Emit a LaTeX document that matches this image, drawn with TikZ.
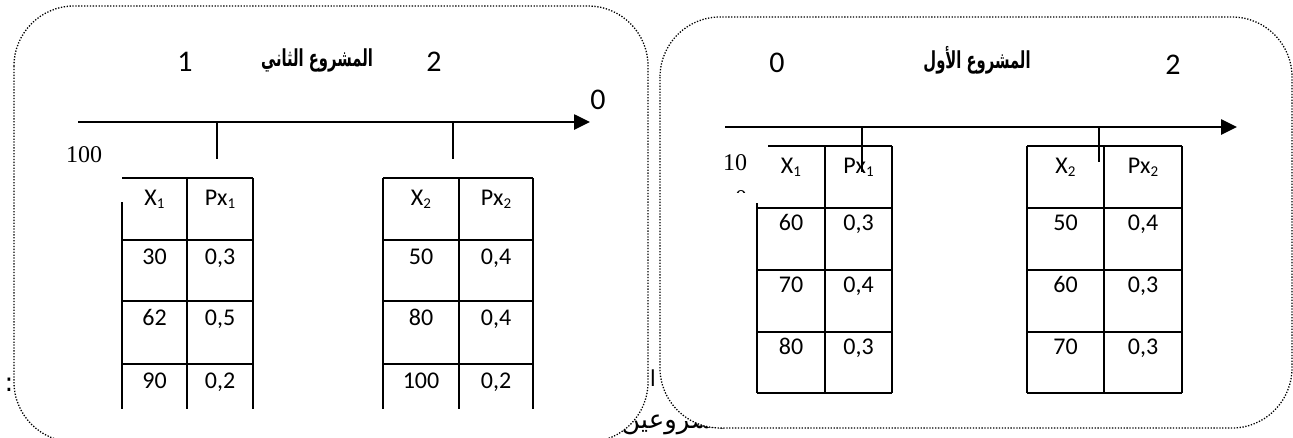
\documentclass[tikz,border=0pt]{standalone}
\usepackage{fontspec}
\setmainfont{Carlito}
\newfontfamily\arabicfont[Script=Arabic]{DejaVu Sans}
\newfontfamily\timesfont{Liberation Serif}
\TeXXeTstate=1
\usetikzlibrary{arrows.meta}
\newcommand\sbs[1]{\raisebox{-0.3ex}{\fontsize{15}{15}\selectfont #1}}
\newcommand\ttltext[1]{\scalebox{0.82}[1.3]{\beginR #1\endR}}
\begin{document}
\begin{tikzpicture}[x=1pt,y=-1pt,
  dotbox/.style={draw=black, fill=white, line width=1.3pt, dash pattern=on 1.3pt off 1.6pt, rounded corners=60pt},
  tline/.style={line width=2.2pt},
  axisline/.style={line width=2.6pt, -{Triangle[length=16pt,width=15pt]}},
  tickline/.style={line width=1.8pt},
  thintick/.style={line width=1.4pt},
  cell/.style={font=\fontsize{24}{24}\selectfont, inner sep=0pt, anchor=base},
  big/.style={font=\fontsize{30}{30}\selectfont, inner sep=0pt},
  ttl/.style={font=\arabicfont\bfseries\fontsize{18}{18}\selectfont, inner sep=0pt},
  serifnum/.style={font=\timesfont\fontsize{24}{24}\selectfont, inner sep=0pt},
  frag/.style={font=\arabicfont\fontsize{26}{26}\selectfont, inner sep=0pt}
]
\useasboundingbox[fill=white] (0,0) rectangle (1293,437);

% text fragments lying behind the frames
\node[frag, anchor=base west] (fragword) at (621,428) {\beginR المشروعين\endR};
\node[frag] (fragcolon) at (9,385) {:};

% frames
\draw[dotbox] (14,6) rectangle (648,442);
\draw[dotbox] (660,17) rectangle (1292,428);
\node[frag, font=\arabicfont\fontsize{22}{22}\selectfont] (fragalef) at (653,378) {\beginR ا\endR};

% ---------- left frame : second project ----------
\node[big] (l1) at (185,62) {1};
\node[ttl] (ltitle) at (317,60) {\ttltext{المشروع الثاني}};
\node[big] (l2) at (434,62) {2};
\node[big] (l0) at (598,100) {0};
\node[serifnum] (l100) at (84,155) {100};

\coordinate (la0) at (78,122);
\coordinate (la1) at (590,122);
\draw[axisline] (la0) -- (la1);
\coordinate (lt1a) at (217,122); \coordinate (lt1b) at (217,159);
\coordinate (lt2a) at (453,122); \coordinate (lt2b) at (453,159);
\draw[tickline] (lt1a) -- (lt1b);
\draw[tickline] (lt2a) -- (lt2b);

% left table 1
\draw[tline] (122,178) -- (253,178);
\draw[tline] (122,202) -- (122,409);
\draw[tline] (187,178) -- (187,409);
\draw[tline] (253,178) -- (253,409);
\foreach \yy in {240,301,364} \draw[tline] (122,\yy) -- (253,\yy);
\node[cell] (a00) at (154.5,205) {X\sbs{1}};
\node[cell] (a01) at (220,205) {Px\sbs{1}};
\node[cell] (a10) at (154.5,264.5) {30};
\node[cell] (a11) at (220,264.5) {0,3};
\node[cell] (a20) at (154.5,325.5) {62};
\node[cell] (a21) at (220,325.5) {0,5};
\node[cell] (a30) at (154.5,388.5) {90};
\node[cell] (a31) at (220,388.5) {0,2};

% left table 2
\draw[tline] (383,178) -- (533,178);
\draw[tline] (383,178) -- (383,409);
\draw[tline] (459,178) -- (459,409);
\draw[tline] (533,178) -- (533,409);
\foreach \yy in {240,301,364} \draw[tline] (383,\yy) -- (533,\yy);
\node[cell] (b00) at (421,205) {X\sbs{2}};
\node[cell] (b01) at (496,205) {Px\sbs{2}};
\node[cell] (b10) at (421,264.5) {50};
\node[cell] (b11) at (496,264.5) {0,4};
\node[cell] (b20) at (421,325.5) {80};
\node[cell] (b21) at (496,325.5) {0,4};
\node[cell] (b30) at (421,388.5) {100};
\node[cell] (b31) at (496,388.5) {0,2};

% ---------- right frame : first project ----------
\node[big] (r0) at (777,63) {0};
\node[ttl] (rtitle) at (977,60) {\ttltext{المشروع الأول}};
\node[big] (r2) at (1173,65) {2};
\node[serifnum] (r10) at (735,163) {10};
\begin{scope}
  \clip (725,180) rectangle (760,192);
  \node[serifnum] (r10b) at (741,199) {0};
\end{scope}

\coordinate (ra0) at (725,127);
\coordinate (ra1) at (1237,127);
\draw[axisline] (ra0) -- (ra1);

% right table 1
\draw[tline] (768,146) -- (892,146);
\draw[tline] (757,203) -- (757,393);
\draw[tline] (825,146) -- (825,393);
\draw[tline] (892,146) -- (892,393);
\foreach \yy in {208,270,332,393} \draw[tline] (757,\yy) -- (892,\yy);
\node[cell] (c00) at (791,173) {X\sbs{1}};
\node[cell] (c01) at (858.5,173) {Px\sbs{1}};
\node[cell] (c10) at (791,230.5) {60};
\node[cell] (c11) at (858.5,230.5) {0,3};
\node[cell] (c20) at (791,292.5) {70};
\node[cell] (c21) at (858.5,292.5) {0,4};
\node[cell] (c30) at (791,354.5) {80};
\node[cell] (c31) at (858.5,354.5) {0,3};

% right table 2
\draw[tline] (1027,146) -- (1182,146);
\draw[tline] (1027,146) -- (1027,393);
\draw[tline] (1104,146) -- (1104,393);
\draw[tline] (1182,146) -- (1182,393);
\foreach \yy in {208,270,332,393} \draw[tline] (1027,\yy) -- (1182,\yy);
\node[cell] (d00) at (1065.5,173) {X\sbs{2}};
\node[cell] (d01) at (1143,173) {Px\sbs{2}};
\node[cell] (d10) at (1065.5,230.5) {50};
\node[cell] (d11) at (1143,230.5) {0,4};
\node[cell] (d20) at (1065.5,292.5) {60};
\node[cell] (d21) at (1143,292.5) {0,3};
\node[cell] (d30) at (1065.5,354.5) {70};
\node[cell] (d31) at (1143,354.5) {0,3};

% right ticks (drawn over the tables)
\coordinate (rt1a) at (862,127); \coordinate (rt1b) at (862,172);
\coordinate (rt2a) at (1099,127); \coordinate (rt2b) at (1099,162);
\draw[thintick] (rt1a) -- (rt1b);
\draw[thintick] (rt2a) -- (rt2b);
\end{tikzpicture}
\end{document}
